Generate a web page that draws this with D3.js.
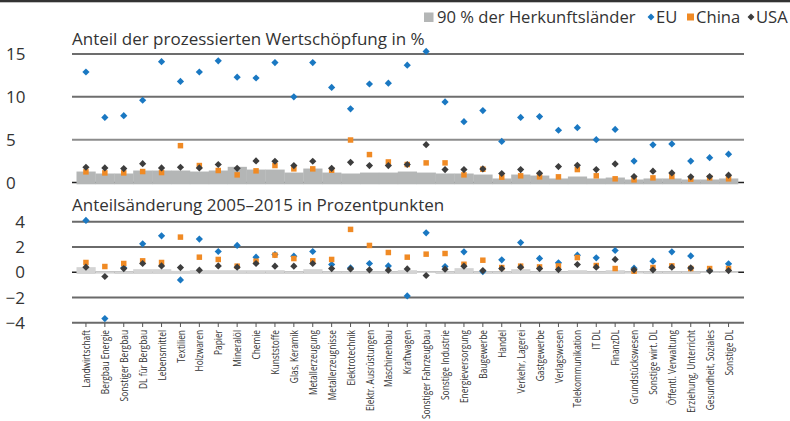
<!DOCTYPE html>
<html lang="de">
<head>
<meta charset="utf-8">
<script src="https://cdn.jsdelivr.net/npm/d3@7"></script>
<style>
  html, body { margin: 0; padding: 0; background: #fff; }
  svg { display: block; font-family: "Open Sans", Lato, sans-serif; }
</style>
</head>
<body>
<div id="chart"></div>
<script>
const categories = [
  "Landwirtschaft", "Bergbau Energie", "Sonstiger Bergbau", "DL für Bergbau", "Lebensmittel",
  "Textilien", "Holzwaren", "Papier", "Mineralöl", "Chemie", "Kunststoffe", "Glas, Keramik",
  "Metallerzeugung", "Metallerzeugnisse", "Elektrotechnik", "Elektr. Ausrüstungen", "Maschinenbau",
  "Kraftwagen", "Sonstiger Fahrzeugbau", "Sonstige Industrie", "Energieversorgung", "Baugewerbe",
  "Handel", "Verkehr, Lagerei", "Gastgewerbe", "Verlagswesen", "Telekommunikation", "IT DL",
  "FinanzDL", "Grundstückswesen", "Sonstige wirt. DL", "Öffentl. Verwaltung",
  "Erziehung, Unterricht", "Gesundheit, Soziales", "Sonstige DL"
];

// Anteil der prozessierten Wertschöpfung in %
const share90 = [1.28, 1.05, 1.05, 1.4, 1.4, 1.4, 1.28, 1.4, 1.83, 1.51, 1.51, 1.16, 1.63, 1.16, 1.05, 1.16, 1.16, 1.28,
  1.16, 1.05, 1.05, 0.93, 0.47, 0.93, 0.81, 0.47, 0.7, 0.47, 0.58, 0.35, 0.47, 0.47, 0.35, 0.35, 0.47];
const shareEU = [12.9, 7.6, 7.8, 9.6, 14.1, 11.8, 12.9, 14.2, 12.3, 12.2, 14.0, 10.0, 14.0, 11.1, 8.6, 11.5, 11.6, 13.7,
  15.3, 9.4, 7.1, 8.4, 4.8, 7.6, 7.7, 6.1, 6.4, 5.0, 6.2, 2.5, 4.4, 4.5, 2.5, 2.9, 3.3];
const shareChina = [1.24, 1.12, 1.12, 1.28, 1.16, 4.3, 1.98, 1.4, 0.89, 1.36, 1.98, 1.59, 1.59, 1.43, 4.96, 3.26, 2.4, 2.1,
  2.29, 2.29, 0.89, 1.55, 0.62, 0.78, 0.66, 0.66, 1.51, 0.78, 0.43, 0.31, 0.54, 0.7, 0.39, 0.54, 0.43];
const shareUSA = [1.78, 1.7, 1.63, 2.2, 1.7, 1.78, 1.7, 2.1, 1.66, 2.52, 2.48, 1.98, 2.48, 1.66, 2.36, 1.98, 1.98, 2.1,
  4.42, 1.51, 1.51, 1.59, 1.05, 1.51, 1.08, 1.86, 2.01, 1.51, 2.17, 0.7, 1.32, 1.12, 0.66, 0.7, 0.85];

// Anteilsänderung 2005–2015 in Prozentpunkten
const change90 = [0.4, -0.05, 0.08, 0.24, 0.24, 0.11, 0.16, 0.16, 0.16, 0.16, 0.16, 0.08, 0.24, 0.08, 0.08, 0.08, 0.08, 0.16,
  0.0, 0.08, 0.32, 0.08, 0.08, 0.24, 0.08, 0.08, 0.16, 0.08, 0.16, -0.05, 0.08, 0.08, 0.08, 0.0, 0.0];
const changeEU = [4.1, -3.67, 0.35, 2.25, 2.88, -0.61, 2.62, 1.64, 2.12, 1.19, 1.4, 1.27, 1.64, 0.61, 0.34, 0.69, 0.5, -1.88,
  3.12, 0.45, 1.61, 0.05, 0.98, 2.35, 1.09, 0.74, 1.35, 1.14, 1.72, 0.32, 0.87, 1.61, 1.29, 0.15, 0.66];
const changeChina = [0.77, 0.45, 0.69, 0.9, 0.77, 2.78, 1.19, 1.01, 0.48, 0.87, 1.35, 1.08, 0.9, 1.01, 3.39, 2.12, 1.56, 1.19,
  1.43, 1.48, 0.63, 0.95, 0.37, 0.48, 0.42, 0.5, 1.16, 0.53, 0.29, 0.08, 0.37, 0.5, 0.29, 0.29, 0.29];
const changeUSA = [0.4, -0.34, 0.29, 0.69, 0.5, 0.37, 0.16, 0.5, 0.4, 0.69, 0.48, 0.48, 0.69, 0.29, 0.26, 0.19, 0.16, 0.26,
  -0.26, 0.24, 0.48, 0.13, 0.29, 0.4, 0.29, 0.21, 0.61, 0.4, 1.01, 0.19, 0.19, 0.4, 0.34, 0.1, 0.13];

const topTicks = [0, 5, 10, 15];
const bottomTicks = [-4, -2, 0, 2, 4];

const legendItems = [
  { label: "90 % der Herkunftsländer", shape: "bar", color: "#b4b6b6", x: 424 },
  { label: "EU", shape: "diamond", color: "#1a78c2", x: 647 },
  { label: "China", shape: "square", color: "#f08a24", x: 687 },
  { label: "USA", shape: "diamond", color: "#3d3d3d", x: 747 }
];

const width = 790;
const height = 421;
const gridLeft = 72;
const gridRight = 744;
const textColor = "#333";

const svg = d3.select("#chart").append("svg").attr("width", width).attr("height", height);

// dark rule on top
svg.append("rect").attr("x", 0).attr("y", 0).attr("width", width).attr("height", 2.3).attr("fill", "#333");

// legend
const legend = svg.append("g").attr("transform", "translate(0,17)");
legendItems.forEach((item) => {
  const g = legend.append("g").attr("transform", `translate(${item.x},0)`);
  if (item.shape === "bar") {
    g.append("rect").attr("x", 0).attr("y", -4.5).attr("width", 9.5).attr("height", 9.5).attr("fill", item.color);
  } else if (item.shape === "square") {
    g.append("rect").attr("x", 0).attr("y", -3.5).attr("width", 7).attr("height", 7).attr("fill", item.color);
  } else {
    g.append("path")
      .attr("d", d3.symbol(d3.symbolSquare, 24)())
      .attr("transform", "translate(4,0) rotate(45)")
      .attr("fill", item.color);
  }
  g.append("text")
    .attr("x", item.shape === "bar" ? 13 : 9)
    .attr("y", 0)
    .attr("dy", "0.35em")
    .attr("font-size", 16.6)
    .attr("fill", textColor)
    .text(item.label);
});

const x = d3.scaleBand().domain(categories).range([76.5, 738]).paddingInner(0).paddingOuter(0);
const cx = (c) => x(c) + x.bandwidth() / 2;

const yTop = d3.scaleLinear().domain([0, 15]).range([182.5, 54]);
const yBot = d3.scaleLinear().domain([-4, 4]).range([322.7, 221.7]);

const gridStyleTop = { 0: ["#222", 1.5], 5: ["#8c8c8c", 2], 10: ["#6e6e6e", 2], 15: ["#3c3c3c", 1.5] };

function drawPanel(opts) {
  const { y, ticks, title, titleY, bars, barColor, eu, china, usa, labelAnchor, labelX, gridStyle } = opts;
  const panel = svg.append("g");

  panel.append("text")
    .attr("x", gridLeft)
    .attr("y", titleY)
    .attr("font-size", 17)
    .attr("fill", textColor)
    .text(title);

  // gridlines
  panel.selectAll(".grid")
    .data(ticks)
    .join("line")
    .attr("x1", gridLeft)
    .attr("x2", gridRight)
    .attr("y1", (d) => y(d))
    .attr("y2", (d) => y(d))
    .attr("stroke", (d) => gridStyle(d)[0])
    .attr("stroke-width", (d) => gridStyle(d)[1]);

  panel.selectAll(".ylab")
    .data(ticks)
    .join("text")
    .attr("x", labelX)
    .attr("y", (d) => y(d))
    .attr("dy", "0.36em")
    .attr("text-anchor", labelAnchor)
    .attr("font-size", 17)
    .attr("fill", textColor)
    .text((d) => (d < 0 ? "\u2212" + Math.abs(d) : d));

  // bars for 90 % der Herkunftslaender, stepped and touching
  panel.selectAll(".bar")
    .data(categories)
    .join("rect")
    .attr("x", (c) => x(c))
    .attr("width", x.bandwidth() + 0.3)
    .attr("y", (c, i) => Math.min(y(bars[i]), y(0) - 1))
    .attr("height", (c, i) => Math.abs(y(0) - y(bars[i])) + 1.8)
    .attr("fill", barColor);

  const diamond = d3.symbol(d3.symbolSquare, 26)();
  const square = d3.symbol(d3.symbolSquare, 30)();

  panel.selectAll(".eu")
    .data(categories)
    .join("path")
    .attr("d", diamond)
    .attr("transform", (c, i) => `translate(${cx(c)},${y(eu[i])}) rotate(45)`)
    .attr("fill", "#1a78c2");

  panel.selectAll(".china")
    .data(categories)
    .join("path")
    .attr("d", square)
    .attr("transform", (c, i) => `translate(${cx(c)},${y(china[i])})`)
    .attr("fill", "#f08a24");

  panel.selectAll(".usa")
    .data(categories)
    .join("path")
    .attr("d", diamond)
    .attr("transform", (c, i) => `translate(${cx(c)},${y(usa[i])}) rotate(45)`)
    .attr("fill", "#3d3d3d");
}

drawPanel({
  y: yTop,
  ticks: topTicks,
  title: "Anteil der prozessierten Wertschöpfung in %",
  titleY: 45,
  bars: share90,
  barColor: "#b4b6b6",
  eu: shareEU,
  china: shareChina,
  usa: shareUSA,
  labelAnchor: "start",
  labelX: 6,
  gridStyle: (d) => gridStyleTop[d]
});

drawPanel({
  y: yBot,
  ticks: bottomTicks,
  title: "Anteilsänderung 2005\u20132015 in Prozentpunkten",
  titleY: 211,
  bars: change90,
  barColor: "#d4d4d4",
  eu: changeEU,
  china: changeChina,
  usa: changeUSA,
  labelAnchor: "end",
  labelX: 25,
  gridStyle: (d) => (d === 0 ? ["#222", 1.5] : ["#6a6a6a", 2])
});

// category axis below the lower panel
const xAxis = svg.append("g");
xAxis.selectAll(".tick")
  .data(categories)
  .join("line")
  .attr("x1", cx)
  .attr("x2", cx)
  .attr("y1", 323)
  .attr("y2", 327)
  .attr("stroke", "#555")
  .attr("stroke-width", 1);

// narrow labels; the longest one has to stay inside the picture
xAxis.selectAll(".xlab")
  .data(categories)
  .join("text")
  .attr("transform", (c) => `translate(${cx(c)},330) rotate(-90) scale(0.72,1)`)
  .attr("text-anchor", "end")
  .attr("dy", "0.35em")
  .attr("font-size", 11.6)
  .attr("fill", textColor)
  .text((c) => c);
</script>
</body>
</html>
